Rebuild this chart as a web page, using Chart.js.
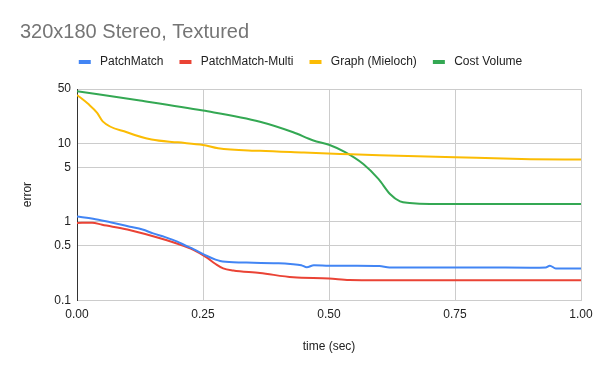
<!DOCTYPE html>
<html>
<head>
<meta charset="utf-8">
<script src="https://cdn.jsdelivr.net/npm/chart.js@4/dist/chart.umd.min.js"></script>
<style>
  html, body { margin: 0; padding: 0; background: #fff; }
</style>
</head>
<body>
<canvas id="chart" width="600" height="371"></canvas>
<script>
// ── Data ────────────────────────────────────────────────────

const seriesNames = ['PatchMatch', 'PatchMatch-Multi', 'Graph (Mieloch)', 'Cost Volume'];
const seriesColors = ['#4285f4', '#ea4335', '#fbbc04', '#34a853'];

const pmTime  = [0, 0.032, 0.066, 0.105, 0.13, 0.151, 0.175, 0.198, 0.215, 0.231, 0.257, 0.275, 0.284, 0.31, 0.35, 0.4, 0.423, 0.445, 0.456, 0.47, 0.5, 0.55, 0.6, 0.62, 0.7, 0.8, 0.9, 0.93, 0.938, 0.95, 1.0];
const pmError = [1.17, 1.10, 0.99, 0.87, 0.80, 0.715, 0.64, 0.565, 0.5, 0.45, 0.37, 0.33, 0.317, 0.305, 0.302, 0.296, 0.29, 0.28, 0.263, 0.28, 0.276, 0.275, 0.273, 0.262, 0.262, 0.262, 0.26, 0.262, 0.276, 0.255, 0.255];

const pmmTime  = [0, 0.03, 0.05, 0.1, 0.151, 0.198, 0.231, 0.257, 0.275, 0.29, 0.31, 0.363, 0.429, 0.5, 0.54, 0.6, 0.8, 1.0];
const pmmError = [0.97, 0.98, 0.92, 0.80, 0.655, 0.53, 0.44, 0.352, 0.29, 0.255, 0.24, 0.223, 0.196, 0.19, 0.181, 0.18, 0.18, 0.18];

const graphTime  = [0, 0.022, 0.04, 0.051, 0.099, 0.148, 0.2, 0.25, 0.28, 0.363, 0.45, 0.522, 0.6, 0.75, 0.9, 1.0];
const graphError = [42, 32.3, 24.8, 19.3, 14.0, 11.3, 10.4, 9.65, 8.74, 8.1, 7.7, 7.4, 7.1, 6.7, 6.35, 6.26];

const cvTime  = [0, 0.125, 0.25, 0.363, 0.429, 0.469, 0.5, 0.532, 0.568, 0.598, 0.621, 0.641, 0.66, 0.70, 1.0];
const cvError = [46.8, 35.6, 26.5, 19.1, 14.0, 11.0, 9.7, 7.8, 5.5, 3.55, 2.28, 1.83, 1.75, 1.70, 1.70];

const xTicks = [0, 0.25, 0.5, 0.75, 1.0];
const yTicks = [0.1, 0.5, 1, 5, 10, 50];

// ── Helpers ─────────────────────────────────────────────────

const FONT = '"Liberation Sans", Arial, sans-serif';

function toPoints(times, errors) {
    return times.map((t, i) => ({ x: t, y: errors[i] }));
}

const seriesPoints = [
    toPoints(pmTime, pmError),
    toPoints(pmmTime, pmmError),
    toPoints(graphTime, graphError),
    toPoints(cvTime, cvError),
];

// ── Chart ───────────────────────────────────────────────────

const ctx = document.getElementById('chart');

new Chart(ctx, {
    type: 'line',
    data: {
        datasets: seriesNames.map((name, i) => ({
            label: name,
            data: seriesPoints[i],
            borderColor: seriesColors[i],
            backgroundColor: seriesColors[i],
            borderWidth: 2,
            pointRadius: 0,
            cubicInterpolationMode: 'monotone',
        })),
    },
    options: {
        responsive: false,
        animation: false,
        devicePixelRatio: 1,
        layout: { padding: { left: 20, right: 19, top: 0, bottom: 17 } },
        plugins: {
            tooltip: { enabled: false },
            title: {
                display: true,
                text: '320x180 Stereo, Textured',
                align: 'start',
                color: '#757575',
                font: { family: FONT, size: 20, weight: 'normal', lineHeight: 1 },
                padding: { top: 22, bottom: -2 },
            },
            // empty subtitle below the legend, used as a spacer above the plot
            subtitle: {
                display: true,
                text: '',
                weight: 500,
                font: { size: 1, lineHeight: 1 },
                padding: { top: 0, bottom: 10 },
            },
            legend: {
                display: true,
                labels: {
                    color: '#222',
                    font: { family: FONT, size: 12 },
                    boxWidth: 12,
                    boxHeight: 4,
                    padding: 16,
                    generateLabels(chart) {
                        const items = Chart.defaults.plugins.legend.labels.generateLabels(chart);
                        items.forEach(it => { it.text = ' ' + it.text; it.lineWidth = 0; });
                        return items;
                    },
                },
            },
        },
        scales: {
            x: {
                type: 'linear',
                min: 0,
                max: 1,
                afterBuildTicks(scale) {
                    scale.ticks = xTicks.map(v => ({ value: v }));
                },
                ticks: {
                    color: '#222',
                    font: { family: FONT, size: 12 },
                    padding: 7,
                    maxRotation: 0,
                    callback: v => Number(v).toFixed(2),
                },
                grid: { color: '#cccccc', drawTicks: false },
                border: { color: '#cccccc' },
                title: {
                    display: true,
                    text: 'time (sec)',
                    color: '#222',
                    font: { family: FONT, size: 12 },
                    padding: { top: 11, bottom: 0 },
                },
            },
            y: {
                type: 'logarithmic',
                min: 0.1,
                max: 50,
                afterBuildTicks(scale) {
                    scale.ticks = yTicks.map(v => ({ value: v }));
                },
                afterFit(scale) {
                    scale.width = 57;
                },
                ticks: {
                    color: '#222',
                    font: { family: FONT, size: 12 },
                    padding: 6,
                    callback: v => String(v),
                },
                grid: { color: '#cccccc', drawTicks: false },
                border: { color: '#333333' },
                title: {
                    display: true,
                    text: 'error',
                    color: '#222',
                    font: { family: FONT, size: 12 },
                    padding: { top: 0, bottom: 0 },
                },
            },
        },
    },
});
</script>
</body>
</html>
